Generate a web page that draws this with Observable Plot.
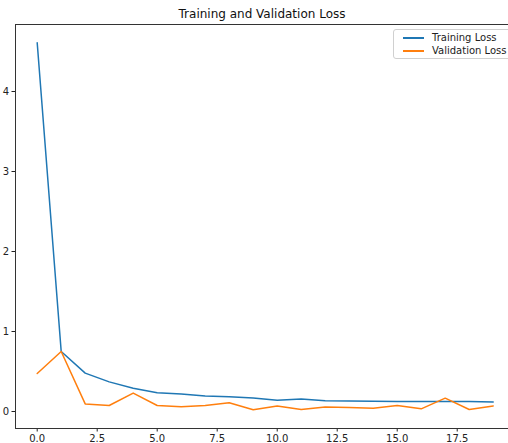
<!DOCTYPE html>
<html>
<head>
<meta charset="utf-8">
<script src="https://cdn.jsdelivr.net/npm/d3@7"></script>
<script src="https://cdn.jsdelivr.net/npm/@observablehq/plot@0.6"></script>
<style>
  html, body { margin: 0; padding: 0; background: #fff; }
  #wrap { position: relative; width: 508px; height: 443px; overflow: hidden; }
  #legend { position: absolute; left: 393px; top: 29px; width: 130px; height: 30px;
    border: 1px solid #d0d0d0; border-radius: 3px; background: rgba(255,255,255,0.8);
    font-family: "DejaVu Sans", sans-serif; font-size: 10px; color: #222; box-sizing: border-box; }
  .item { position: absolute; left: 0; height: 12px; }
  .swatch { position: absolute; left: 9px; width: 21px; height: 2px; }
  .lab { position: absolute; left: 38px; top: 0; white-space: nowrap; line-height: 12px; }
</style>
</head>
<body>
<div id="wrap"><div id="legend"></div></div>
<script>
const title = "Training and Validation Loss";
const epochs = [0,1,2,3,4,5,6,7,8,9,10,11,12,13,14,15,16,17,18,19];
const trainingLoss = [4.61,0.75,0.48,0.37,0.29,0.235,0.22,0.195,0.185,0.17,0.14,0.155,0.135,0.13,0.127,0.126,0.126,0.126,0.125,0.12];
const validationLoss = [0.475,0.75,0.095,0.075,0.23,0.075,0.058,0.075,0.11,0.022,0.07,0.025,0.055,0.05,0.042,0.075,0.033,0.167,0.025,0.07];
const seriesNames = ["Training Loss", "Validation Loss"];
const seriesColors = ["#1f77b4", "#ff7f0e"];
const xTicks = [0, 2.5, 5, 7.5, 10, 12.5, 15, 17.5];
const yTicks = [0, 1, 2, 3, 4];

const rows = [];
epochs.forEach((e, i) => {
  rows.push({epoch: e, loss: trainingLoss[i], series: seriesNames[0]});
});
epochs.forEach((e, i) => {
  rows.push({epoch: e, loss: validationLoss[i], series: seriesNames[1]});
});

const xDom = [-0.904, 19.637];
const yDom = [-0.2125, 4.8375];

const chart = Plot.plot({
  width: 508, height: 443,
  marginLeft: 15, marginRight: 0, marginTop: 24, marginBottom: 15,
  x: {domain: xDom},
  y: {domain: yDom},
  color: {domain: seriesNames, range: seriesColors},
  style: {fontFamily: "DejaVu Sans, sans-serif", fontSize: "10px", background: "#fff", color: "#222"},
  marks: [
    Plot.axisX({ticks: xTicks, tickFormat: d => d.toFixed(1), tickSize: 3.5, tickPadding: 3, label: null, stroke: "#222", fill: "#222"}),
    Plot.axisY({ticks: yTicks, tickFormat: d => String(d), tickSize: 3.5, tickPadding: 3, label: null, stroke: "#222", fill: "#222"}),
    Plot.ruleX([xDom[0]], {stroke: "#333", strokeWidth: 1}),
    Plot.ruleY([yDom[0], yDom[1]], {stroke: "#333", strokeWidth: 1}),
    Plot.line(rows, {x: "epoch", y: "loss", z: "series", stroke: "series", strokeWidth: 1.5}),
    Plot.text([title], {frameAnchor: "top", lineAnchor: "bottom", dy: -7, fontSize: 12, fill: "#111"})
  ]
});
const wrap = document.getElementById("wrap");
wrap.insertBefore(chart, wrap.firstChild);

const legend = document.getElementById("legend");
seriesNames.forEach((name, i) => {
  const item = document.createElement("div");
  item.className = "item";
  item.style.top = (2 + i * 13) + "px";
  const sw = document.createElement("div");
  sw.className = "swatch";
  sw.style.background = seriesColors[i];
  sw.style.top = "5px";
  const lb = document.createElement("div");
  lb.className = "lab";
  lb.textContent = name;
  item.appendChild(sw);
  item.appendChild(lb);
  legend.appendChild(item);
});
</script>
</body>
</html>
